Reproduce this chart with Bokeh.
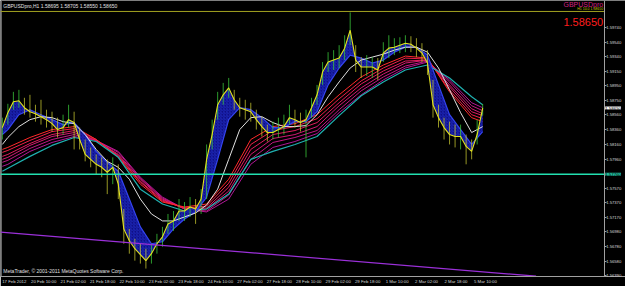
from bokeh.plotting import figure
from bokeh.models import Range1d, FixedTicker, NumeralTickFormatter, Label
from bokeh.embed import file_html
from bokeh.resources import INLINE

# ---- data (hourly GBPUSD, sampled every 3 bars) ----
bar_idx = list(range(0, 262, 3))
close = [1.58387, 1.58588, 1.58735, 1.58749, 1.58655, 1.58601, 1.58574, 1.58534, 1.58494, 1.58440,
         1.58360, 1.58387, 1.58494, 1.58454, 1.58226, 1.58025, 1.57958, 1.57891, 1.57851, 1.57784,
         1.57851, 1.57623, 1.57020, 1.56859, 1.56752, 1.56672, 1.56591, 1.56685, 1.56819, 1.56913,
         1.57087, 1.57127, 1.57261, 1.57261, 1.57315, 1.57288, 1.57422, 1.57958, 1.58293, 1.58695,
         1.58829, 1.58923, 1.58762, 1.58655, 1.58628, 1.58601, 1.58494, 1.58400, 1.58320, 1.58320,
         1.58360, 1.58400, 1.58521, 1.58494, 1.58454, 1.58494, 1.58655, 1.58829, 1.59137, 1.59271,
         1.59298, 1.59325, 1.59459, 1.59700, 1.59298, 1.59204, 1.59204, 1.59204, 1.59164, 1.59392,
         1.59459, 1.59472, 1.59499, 1.59526, 1.59512, 1.59459, 1.59392, 1.59258, 1.58695, 1.58521,
         1.58387, 1.58293, 1.58266, 1.58266, 1.58132, 1.58065, 1.58293, 1.58650]
high = [1.58521, 1.58708, 1.58869, 1.58896, 1.58789, 1.58829, 1.58695, 1.58762, 1.58628, 1.58601,
        1.58521, 1.58561, 1.58695, 1.58601, 1.58387, 1.58226, 1.58119, 1.58025, 1.57985, 1.57958,
        1.57985, 1.57891, 1.57288, 1.57020, 1.56886, 1.56819, 1.56752, 1.56819, 1.56953, 1.57047,
        1.57221, 1.57261, 1.57422, 1.57382, 1.57449, 1.57422, 1.57556, 1.58159, 1.58494, 1.58869,
        1.58990, 1.59057, 1.58896, 1.58789, 1.58762, 1.58722, 1.58628, 1.58534, 1.58427, 1.58467,
        1.58521, 1.58561, 1.58695, 1.58628, 1.58588, 1.58628, 1.58789, 1.58963, 1.59271, 1.59405,
        1.59432, 1.59499, 1.59633, 1.59941, 1.59499, 1.59338, 1.59365, 1.59338, 1.59325, 1.59539,
        1.59633, 1.59593, 1.59606, 1.59633, 1.59620, 1.59593, 1.59526, 1.59432, 1.59030, 1.58695,
        1.58521, 1.58467, 1.58427, 1.58427, 1.58293, 1.58226, 1.58494, 1.58705]
low = [1.58226, 1.58427, 1.58628, 1.58655, 1.58561, 1.58521, 1.58467, 1.58427, 1.58387, 1.58333,
       1.58253, 1.58293, 1.58387, 1.58092, 1.58092, 1.57931, 1.57851, 1.57757, 1.57717, 1.57489,
       1.57623, 1.57422, 1.56819, 1.56685, 1.56591, 1.56551, 1.56484, 1.56551, 1.56685, 1.56779,
       1.56953, 1.56993, 1.57127, 1.57127, 1.57181, 1.57087, 1.57221, 1.57422, 1.58092, 1.58494,
       1.58695, 1.58789, 1.58628, 1.58534, 1.58494, 1.58467, 1.58360, 1.58266, 1.58199, 1.58226,
       1.58253, 1.58293, 1.58427, 1.58387, 1.58333, 1.57985, 1.58521, 1.58695, 1.58963, 1.59137,
       1.59164, 1.59191, 1.59298, 1.59499, 1.59137, 1.59057, 1.59084, 1.59057, 1.59030, 1.59271,
       1.59325, 1.59365, 1.59392, 1.59405, 1.59405, 1.59338, 1.59271, 1.59097, 1.58521, 1.58387,
       1.58226, 1.58159, 1.58119, 1.58092, 1.57891, 1.57958, 1.58159, 1.58550]

# short-term moving averages (every 6 bars)
ma_idx = [0] + list(range(3, 262, 6))
ma_blue = [1.58293, 1.58360, 1.58561, 1.58628, 1.58561, 1.58494, 1.58427, 1.58454, 1.58293, 1.58065,
           1.57918, 1.57797, 1.57422, 1.57047, 1.56819, 1.56846, 1.57020, 1.57154, 1.57248, 1.57449,
           1.57958, 1.58494, 1.58655, 1.58628, 1.58521, 1.58387, 1.58387, 1.58467, 1.58467, 1.58601,
           1.58963, 1.59191, 1.59365, 1.59325, 1.59258, 1.59298, 1.59405, 1.59472, 1.59472, 1.59365,
           1.58963, 1.58561, 1.58360, 1.58159, 1.58333]
ma_white = [1.58159, 1.58253, 1.58400, 1.58494, 1.58534, 1.58521, 1.58467, 1.58440, 1.58293, 1.58092,
            1.57931, 1.57851, 1.57690, 1.57422, 1.57221, 1.57127, 1.57127, 1.57181, 1.57234, 1.57342,
            1.57556, 1.57958, 1.58360, 1.58521, 1.58534, 1.58454, 1.58400, 1.58400, 1.58414, 1.58561,
            1.58802, 1.59003, 1.59191, 1.59298, 1.59338, 1.59378, 1.59432, 1.59472, 1.59472, 1.59405,
            1.59191, 1.58896, 1.58588, 1.58320, 1.58400]

# long-term ribbon (every 12 bars)
rib_idx = [0] + list(range(3, 262, 12)) + [261]
rib1 = [1.58092, 1.58119, 1.58253, 1.58360, 1.58400, 1.58226, 1.57985, 1.57623, 1.57382, 1.57315, 1.57355, 1.57690,
        1.58226, 1.58400, 1.58440, 1.58561, 1.58829, 1.59070, 1.59231, 1.59352, 1.59325, 1.58869, 1.58521, 1.58467]
rib2 = [1.58052, 1.58079, 1.58213, 1.58333, 1.58373, 1.58226, 1.57998, 1.57650, 1.57395, 1.57301, 1.57328, 1.57636,
        1.58159, 1.58347, 1.58400, 1.58507, 1.58775, 1.59017, 1.59191, 1.59325, 1.59311, 1.58896, 1.58561, 1.58507]
rib3 = [1.57998, 1.58025, 1.58172, 1.58293, 1.58347, 1.58213, 1.58012, 1.57663, 1.57409, 1.57301, 1.57301, 1.57583,
        1.58092, 1.58293, 1.58347, 1.58454, 1.58722, 1.58976, 1.59151, 1.59285, 1.59298, 1.58936, 1.58601, 1.58548]
rib4 = [1.57958, 1.57985, 1.58146, 1.58266, 1.58320, 1.58213, 1.58025, 1.57690, 1.57422, 1.57288, 1.57288, 1.57529,
        1.58025, 1.58239, 1.58293, 1.58400, 1.58682, 1.58923, 1.59110, 1.59258, 1.59298, 1.58963, 1.58641, 1.58574]
rib5 = [1.57918, 1.57945, 1.58105, 1.58226, 1.58293, 1.58213, 1.58052, 1.57703, 1.57435, 1.57288, 1.57261, 1.57476,
        1.57958, 1.58186, 1.58253, 1.58347, 1.58628, 1.58883, 1.59070, 1.59218, 1.59285, 1.59003, 1.58682, 1.58615]
rib6 = [1.57864, 1.57891, 1.58065, 1.58186, 1.58266, 1.58213, 1.58065, 1.57717, 1.57449, 1.57288, 1.57248, 1.57422,
        1.57891, 1.58119, 1.58199, 1.58306, 1.58588, 1.58829, 1.59030, 1.59191, 1.59271, 1.59030, 1.58722, 1.58655]
ma_cyan = [1.57797, 1.57837, 1.57998, 1.58146, 1.58253, 1.58199, 1.57985, 1.57556, 1.57355, 1.57261, 1.57288, 1.57489,
           1.57958, 1.58065, 1.58159, 1.58266, 1.58548, 1.58816, 1.59003, 1.59164, 1.59231, 1.59057, 1.58802, 1.58695]

trend_idx = [-1, 290]
trend_price = [1.56977, 1.56381]
support_price = 1.57757
top_line_price = 1.59954
last_price = 1.58650

time_ticks = list(range(0, 257, 16))
time_labels = ["17 Feb 2012", "20 Feb 10:00", "21 Feb 02:00", "21 Feb 18:00", "22 Feb 10:00",
               "23 Feb 02:00", "23 Feb 18:00", "24 Feb 10:00", "27 Feb 02:00", "27 Feb 18:00",
               "28 Feb 10:00", "29 Feb 02:00", "29 Feb 18:00", "1 Mar 10:00", "2 Mar 02:00",
               "2 Mar 18:00", "5 Mar 10:00"]
price_ticks = [1.59740, 1.59540, 1.59340, 1.59150, 1.58950, 1.58750, 1.58560, 1.58360, 1.58160,
               1.57960, 1.57570, 1.57370, 1.57170, 1.56980, 1.56780, 1.56580, 1.56390]

# ---- figure ----
X0, X1 = -1.0, 338.6
XAX = 327.0           # price scale sits here (chart shift area to its left)
Y0, Y1 = 1.56377, 1.60102
p = figure(width=625, height=286, x_range=Range1d(X0, X1), y_range=Range1d(Y0, Y1),
           output_backend="svg", toolbar_location=None, y_axis_location="right",
           background_fill_color="black", border_fill_color="black", min_border=0)
p.xgrid.visible = False
p.ygrid.visible = False
p.outline_line_color = None

ya = p.yaxis[0]
ya.fixed_location = XAX
ya.ticker = FixedTicker(ticks=price_ticks)
ya.formatter = NumeralTickFormatter(format="0.00000")
ya.major_label_text_font = "Liberation Sans"
ya.major_label_text_font_size = "4.2px"
ya.major_label_text_color = "#d8d8d8"
ya.axis_line_color = "#a0a0a0"
ya.major_tick_line_color = "#a0a0a0"
ya.major_tick_out = 2
ya.major_tick_in = 0
ya.minor_tick_line_color = None
ya.minor_tick_out = 0
ya.minor_tick_in = 0
ya.major_label_standoff = 0

xa = p.xaxis[0]
shift = 6.5
xa.ticker = FixedTicker(ticks=[t + shift for t in time_ticks])
xa.major_label_overrides = {t + shift: lab for t, lab in zip(time_ticks, time_labels)}
xa.major_label_text_font = "Liberation Sans"
xa.major_label_text_font_size = "4.3px"
xa.major_label_text_color = "#d8d8d8"
xa.axis_line_color = "#a0a0a0"
xa.major_tick_line_color = None
xa.major_tick_out = 0
xa.major_tick_in = 0
xa.minor_tick_line_color = None
xa.minor_tick_out = 0
xa.minor_tick_in = 0
xa.major_label_standoff = 2

# left border of the chart window
p.segment([X0 + 0.5], [Y0], [X0 + 0.5], [Y1], line_color="#707070", line_width=1)

# ribbons
rib_colors = ["#ff2a2a", "#f0204a", "#e01c5e", "#d01a72", "#c01884", "#b01696"]
for ys, c in zip([rib6, rib5, rib4, rib3, rib2, rib1], rib_colors[::-1]):
    p.line(rib_idx, ys, line_color=c, line_width=1)
p.line(rib_idx, ma_cyan, line_color="#1fb0b0", line_width=1.2)

# blue band between price and short MA
band_x = bar_idx + ma_idx[::-1]
band_y = close + ma_blue[::-1]
p.patch(band_x, band_y, fill_color="#10108e", fill_alpha=0.95, line_color=None,
        hatch_pattern="/", hatch_color="#2638d8", hatch_alpha=0.55, hatch_scale=3)
p.line(ma_idx, ma_blue, line_color="#3444f0", line_width=1.2)
p.line(ma_idx, ma_white, line_color="#e0e0e0", line_width=1)

# candles (wicks)
cols = ["#3ccf3c" if i == 0 or close[i] >= close[i - 1] else "#c8c830" for i in range(len(close))]
p.segment(bar_idx, low, bar_idx, high, line_color=cols, line_width=1, line_alpha=0.75)
p.line(bar_idx, close, line_color="#e4e41c", line_width=1.1)

# horizontal lines & trendline
p.segment([X0], [support_price], [XAX], [support_price], line_color="#22e0b0", line_width=1.4)
p.segment([X0], [top_line_price], [XAX], [top_line_price], line_color="#a0a020", line_width=1)
p.line(trend_idx, trend_price, line_color="#9b30d9", line_width=1.2)

# texts
p.add_layout(Label(x=0.5, y=1.60075, text="GBPUSDpro,H1  1.58695 1.58705 1.58550 1.58650",
                   text_font="Liberation Sans", text_font_size="5px", text_color="#e0e0e0",
                   text_baseline="top", text_align="left"))
p.add_layout(Label(x=0.5, y=1.56410, text="MetaTrader, © 2001-2011 MetaQuotes Software Corp.",
                   text_font="Liberation Sans", text_font_size="5px", text_color="#e0e0e0",
                   text_baseline="bottom", text_align="left"))
p.add_layout(Label(x=XAX, y=1.59995, x_offset=-1, text="GBPUSDpro",
                   text_font="Liberation Sans", text_font_size="7px", text_color="#d02080",
                   text_baseline="bottom", text_align="right"))
p.add_layout(Label(x=XAX, y=1.59958, x_offset=-1, text="H1 10.0 1.58650",
                   text_font="Liberation Sans", text_font_size="3.5px", text_color="#c8c800",
                   text_baseline="bottom", text_align="right"))
p.add_layout(Label(x=XAX, y=1.59754, x_offset=-1, text="1.58650",
                   text_font="Liberation Sans", text_font_size="11px", text_color="#ff1e1e",
                   text_baseline="bottom", text_align="right"))
# price boxes on the price scale
p.add_layout(Label(x=XAX, y=last_price, x_offset=1, text="1.58650", level="overlay",
                   text_font="Liberation Sans", text_font_size="4.4px", text_color="black",
                   background_fill_color="white", background_fill_alpha=1.0,
                   text_baseline="middle", text_align="left"))
p.add_layout(Label(x=XAX, y=support_price, x_offset=1, text="1.57760", level="overlay",
                   text_font="Liberation Sans", text_font_size="4.4px", text_color="black",
                   background_fill_color="#22c0a0", background_fill_alpha=1.0,
                   text_baseline="middle", text_align="left"))

open("out.html", "w").write(file_html(p, INLINE))
